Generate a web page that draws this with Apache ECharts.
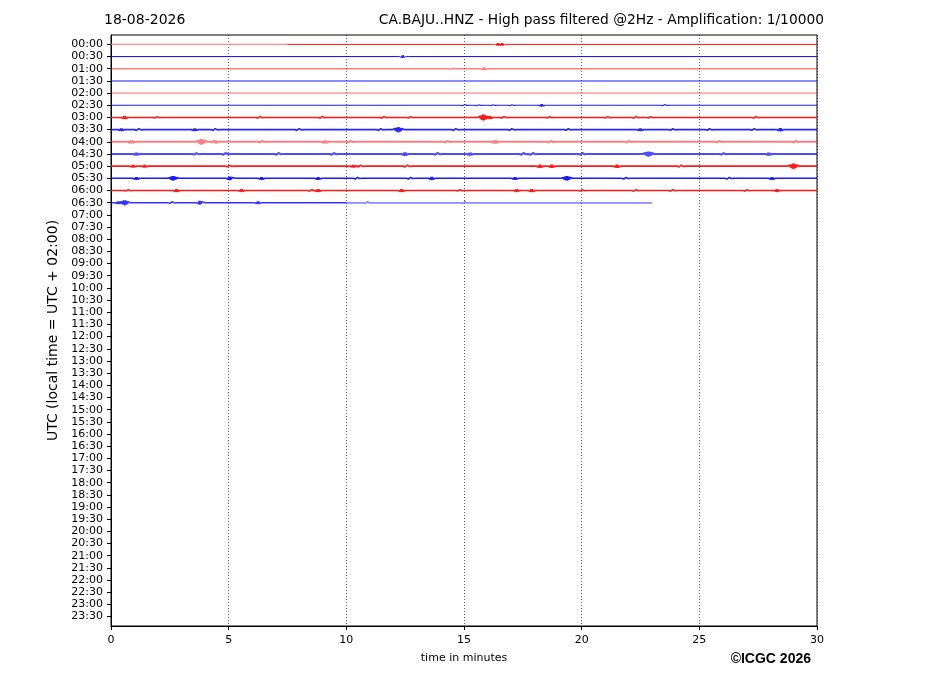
<!DOCTYPE html>
<html><head><meta charset="utf-8">
<script src="https://cdn.jsdelivr.net/npm/echarts@6/dist/echarts.min.js"></script>
<style>html,body{margin:0;padding:0;background:#fff}#c{width:927px;height:696px}</style>
</head><body><div id="c"></div>
<script>
// ---- data ----
const rowLabels = ["00:00","00:30","01:00","01:30","02:00","02:30","03:00","03:30","04:00","04:30",
"05:00","05:30","06:00","06:30","07:00","07:30","08:00","08:30","09:00","09:30","10:00","10:30",
"11:00","11:30","12:00","12:30","13:00","13:30","14:00","14:30","15:00","15:30","16:00","16:30",
"17:00","17:30","18:00","18:30","19:00","19:30","20:00","20:30","21:00","21:30","22:00","22:30",
"23:00","23:30"];
const xTicks = [0, 5, 10, 15, 20, 25, 30];
// bursts per recorded row: [minute, amplitude in row units]
const r0000 = [[16.45,0.12],[16.62,0.12]];
const r0030 = [[12.4,0.12]];
const r0100 = [[14.5,0.06],[15.85,0.12]];
const r0130 = [];
const r0200 = [];
const r0230 = [[15.0,0.07],[15.6,0.06],[16.2,0.06],[17.0,0.06],[18.3,0.12],[23.5,0.07]];
const r0300 = [[0.58,0.14],[1.93,0.08],[6.3,0.1],[8.95,0.1],[11.57,0.1],[12.7,0.08],[15.82,0.26],[16.1,0.14],[16.67,0.1],[18.6,0.09],[21.07,0.09],[22.28,0.1],[22.9,0.08],[27.38,0.09]];
const r0330 = [[0.44,0.12],[1.15,0.1],[3.56,0.12],[4.4,0.1],[7.96,0.1],[11.43,0.1],[12.21,0.22],[14.62,0.1],[17.0,0.08],[19.4,0.08],[22.49,0.12],[23.84,0.09],[25.4,0.09],[27.3,0.08],[28.44,0.14]];
const r0400 = [[0.87,0.12],[3.84,0.24],[4.41,0.12],[6.4,0.1],[9.09,0.12],[10.15,0.09],[14.27,0.1],[16.32,0.14],[18.66,0.1],[21.99,0.09],[25.82,0.1],[29.08,0.1]];
const r0430 = [[1.08,0.12],[3.6,0.09],[4.84,0.1],[7.09,0.1],[9.44,0.1],[12.49,0.14],[13.84,0.1],[15.26,0.12],[17.5,0.1],[17.9,0.1],[20.0,0.1],[22.84,0.22],[26.0,0.08],[27.95,0.12]];
const r0500 = [[0.94,0.12],[1.43,0.12],[5.0,0.08],[10.29,0.12],[10.58,0.1],[12.56,0.1],[18.23,0.14],[18.73,0.14],[21.5,0.14],[24.2,0.1],[29.0,0.24]];
const r0530 = [[1.08,0.12],[2.64,0.2],[5.05,0.17],[6.4,0.12],[8.8,0.12],[10.44,0.1],[12.7,0.1],[13.63,0.14],[17.17,0.12],[19.37,0.2],[21.85,0.1],[26.24,0.1],[28.09,0.12]];
const r0600 = [[0.7,0.08],[2.78,0.14],[5.55,0.12],[8.5,0.1],[8.8,0.14],[12.35,0.14],[14.8,0.08],[17.24,0.12],[17.88,0.14],[20.0,0.08],[22.28,0.1],[23.84,0.1],[27.0,0.09],[28.3,0.12]];
const r0630 = [[0.3,0.12],[0.58,0.22],[2.57,0.1],[3.77,0.17],[6.25,0.12],[10.86,0.06],[15.0,0.06]];
const recordedRows = [r0000,r0030,r0100,r0130,r0200,r0230,r0300,r0330,r0400,r0430,r0500,r0530,r0600,r0630];
const traceEnd = [30,30,30,30,30,30,30,30,30,30,30,30,30,22.98];
// faint stretches: [row, from minute, to minute]
const faintParts = [[0, 0, 7.5], [13, 10, 22.98]];

// ---- styles ----
const rowOpacity = [0.95,0.95,0.5,0.45,0.6,0.9,0.9,0.85,0.5,0.7,0.9,0.9,0.9,0.8];
const rowWidth   = [1,1,1.5,2,1,1.1,1.6,1.7,2.1,2.1,1.7,1.6,1.6,1.5];

function traceData(i, bursts, end) {
  const pts = [[0, i]];
  bursts.slice().sort((a,b)=>a[0]-b[0]).forEach(([t, a]) => {
    const n = a >= 0.18 ? 7 : 4;
    const step = 0.03;
    pts.push([t - (n + 1) * step - 0.1, i]);
    pts.push([t - (n + 1) * step, i]);
    for (let k = -n; k <= n; k++) {
      const env = 1 - Math.abs(k) / (n + 1);
      pts.push([t + k * step, i + (Math.abs(k) % 2 === 0 ? 1 : -1) * a * env]);
    }
    pts.push([t + (n + 1) * step, i]);
    pts.push([t + (n + 1) * step + 0.1, i]);
  });
  pts.push([end, i]);
  return pts;
}

const series = recordedRows.map((b, i) => ({
  type: 'line', data: traceData(i, b, traceEnd[i]), symbol: 'none', silent: true,
  lineStyle: { color: i % 2 === 0 ? '#ff0000' : '#0000ff', width: rowWidth[i], opacity: rowOpacity[i] },
  z: 3
}));
faintParts.forEach(([r, a, b]) => series.push({ type:'line', data:[[a, r],[b, r]], symbol:'none', silent:true,
  lineStyle:{color:'#ffffff', width:1.3, opacity:0.45}, z:4 }));

const chart = echarts.init(document.getElementById('c'), null, {renderer:'canvas'});
chart.setOption({
  animation: false,
  backgroundColor: '#fff',
  title: [
    { text: '18-08-2026', left: 104, top: 13, padding: 0, textStyle: { fontSize: 14, fontWeight: 'normal', color: '#000', fontFamily: 'DejaVu Sans' } },
    { text: 'CA.BAJU..HNZ - High pass filtered @2Hz - Amplification: 1/10000', right: 103, top: 13, padding: 0, textStyle: { fontSize: 13.8, fontWeight: 'normal', color: '#000', fontFamily: 'DejaVu Sans' } }
  ],
  graphic: [
    { type: 'text', right: 116, top: 652, style: { text: '©ICGC 2026', font: 'bold 14px "Liberation Sans"', fill: '#000' } }
  ],
  grid: { left: 111, right: 110, top: 35, bottom: 70, show: true, borderColor: '#000', borderWidth: 1, backgroundColor: 'transparent' },
  xAxis: {
    type: 'value', min: 0, max: 30, interval: 5,
    name: 'time in minutes', nameLocation: 'middle', nameGap: 27,
    nameTextStyle: { fontSize: 11, color: '#000', fontFamily: 'DejaVu Sans' },
    axisLine: { onZero: false, lineStyle: { color: '#000', width: 1 } },
    axisTick: { show: true, length: 4, inside: false, lineStyle: { color: '#000' } },
    axisLabel: { fontSize: 11, color: '#000', margin: 9, fontFamily: 'DejaVu Sans', customValues: xTicks },
    splitLine: { show: true, lineStyle: { color: '#333', width: 0.8, type: [1, 2] } }
  },
  yAxis: {
    type: 'value', min: -0.77, max: 47.77, inverse: true,
    name: 'UTC (local time = UTC + 02:00)', nameLocation: 'middle', nameGap: 41,
    nameTextStyle: { fontSize: 14, color: '#000', fontFamily: 'DejaVu Sans' },
    axisLine: { show: true, onZero: false, lineStyle: { color: '#000', width: 1 } },
    axisTick: { show: true, length: 4, inside: false, lineStyle: { color: '#000' }, customValues: rowLabels.map((_, i) => i) },
    axisLabel: { fontSize: 11, color: '#000', margin: 8, fontFamily: 'DejaVu Sans',
      customValues: rowLabels.map((_, i) => i), formatter: v => rowLabels[Math.round(v)] },
    splitLine: { show: false }
  },
  series: series
});
</script></body></html>
